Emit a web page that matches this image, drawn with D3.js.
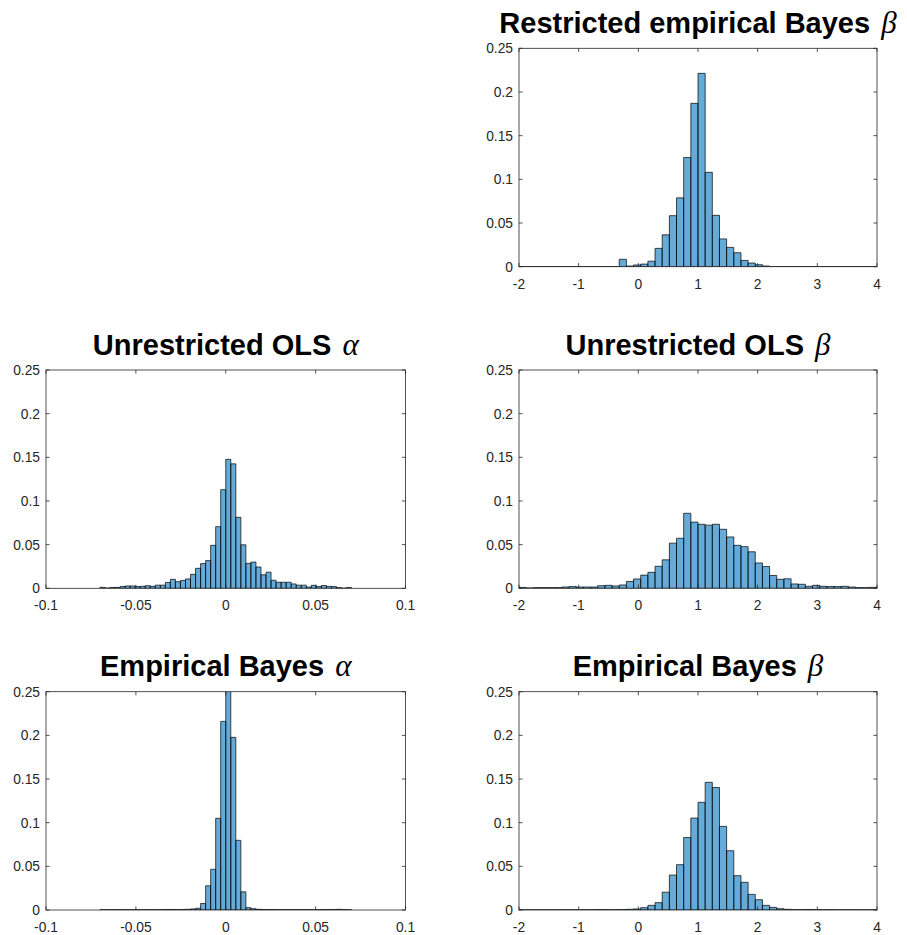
<!DOCTYPE html>
<html>
<head>
<meta charset="utf-8">
<script src="https://cdn.jsdelivr.net/npm/d3@7"></script>
<style>
  html, body { margin: 0; padding: 0; background: #fff; }
  svg { display: block; }
</style>
</head>
<body>
<svg id="chart" width="907" height="935"></svg>
<script>
// 50 equal-width bins over each parameter's range
const nBins = 50;
const alphaLimits = [-0.07, 0.07];
const betaLimits = [-2, 4];

const alphaTicks = [-0.1, -0.05, 0, 0.05, 0.1];
const betaTicks = [-2, -1, 0, 1, 2, 3, 4];
const yTicks = [0, 0.05, 0.1, 0.15, 0.2, 0.25];

// relative frequencies per bin
const restrictedEBBeta = [
  0, 0, 0, 0, 0, 0, 0, 0, 0, 0,
  0, 0, 0, 0, 0.0085, 0.0008, 0.002, 0.003, 0.0063, 0.021,
  0.0365, 0.0584, 0.0788, 0.125, 0.187, 0.2213, 0.108, 0.0588, 0.0318, 0.0221,
  0.016, 0.0072, 0.0042, 0.0023, 0.0008, 0, 0, 0, 0, 0,
  0, 0, 0, 0, 0, 0, 0, 0, 0, 0
];
const olsAlpha = [
  0.0011, 0.0003, 0.001, 0.001, 0.002, 0.0027, 0.0027, 0.002, 0.0023, 0.003,
  0.0023, 0.0036, 0.0036, 0.0067, 0.0103, 0.0076, 0.009, 0.0107, 0.016, 0.0229,
  0.0283, 0.0317, 0.0492, 0.0706, 0.113, 0.1477, 0.1425, 0.0813, 0.0498, 0.0286,
  0.03, 0.0244, 0.0155, 0.0185, 0.0092, 0.0069, 0.0069, 0.0069, 0.005, 0.0036,
  0.0036, 0.0015, 0.0034, 0.002, 0.0032, 0.0022, 0.002, 0.0008, 0.0002, 0.001
];
const olsBeta = [
  0.001, 0.0004, 0.0008, 0.0008, 0.0008, 0.0008, 0.0015, 0.002, 0.0015, 0.0015,
  0.0015, 0.003, 0.0034, 0.0027, 0.0038, 0.0078, 0.0107, 0.0151, 0.0183, 0.0252,
  0.0326, 0.0517, 0.0573, 0.0859, 0.0758, 0.0733, 0.0723, 0.0733, 0.0676, 0.0588,
  0.0492, 0.0477, 0.0418, 0.029, 0.025, 0.0147, 0.0103, 0.0109, 0.005, 0.0046,
  0.0023, 0.0034, 0.0023, 0.002, 0.002, 0.0023, 0.0015, 0.0008, 0.0008, 0.0011
];
const ebAlpha = [
  0.0003, 0.0003, 0.0003, 0.0003, 0.0003, 0.0003, 0.0003, 0.0003, 0.0003, 0.0003,
  0.0003, 0.0003, 0.0005, 0.0006, 0.0006, 0.0005, 0.0006, 0.0008, 0.0012, 0.002,
  0.0075, 0.0277, 0.0466, 0.105, 0.216, 0.27, 0.1977, 0.0798, 0.0208, 0.0027,
  0.0015, 0.0008, 0.0006, 0.0005, 0.0005, 0.0004, 0.0004, 0.0004, 0.0004, 0.0004,
  0.0004, 0.0004, 0.0004, 0.0004, 0.0005, 0.0005, 0.0006, 0.0008, 0.0004, 0.0003
];
const ebBeta = [
  0.0002, 0.0002, 0.0002, 0.0002, 0.0002, 0.0002, 0.0002, 0.0002, 0.0002, 0.0003,
  0.0003, 0.0005, 0.0003, 0.0003, 0.0005, 0.0008, 0.0012, 0.0027, 0.0053, 0.0084,
  0.0204, 0.04, 0.0519, 0.083, 0.1053, 0.1233, 0.1462, 0.1403, 0.0958, 0.0679,
  0.0393, 0.0317, 0.0179, 0.0118, 0.0053, 0.003, 0.0015, 0.0008, 0.0004, 0.0004,
  0.0006, 0.0004, 0.0003, 0.0003, 0.0002, 0.0002, 0.0002, 0.0002, 0.0002, 0.0002
];

// subplot grid (3x2, top-left slot empty)
const colX = [[46, 405.5], [519, 877]];
const rowY = [[48.3, 266.7], [370, 588.3], [691.7, 910]];

const panels = [
  { id: 'reb', title: 'Restricted empirical Bayes ', greek: 'β', values: restrictedEBBeta, limits: betaLimits, domain: [-2, 4], xTicks: betaTicks, col: 1, row: 0 },
  { id: 'olsa', title: 'Unrestricted OLS ', greek: 'α', values: olsAlpha, limits: alphaLimits, domain: [-0.1, 0.1], xTicks: alphaTicks, col: 0, row: 1 },
  { id: 'olsb', title: 'Unrestricted OLS ', greek: 'β', values: olsBeta, limits: betaLimits, domain: [-2, 4], xTicks: betaTicks, col: 1, row: 1 },
  { id: 'eba', title: 'Empirical Bayes ', greek: 'α', values: ebAlpha, limits: alphaLimits, domain: [-0.1, 0.1], xTicks: alphaTicks, col: 0, row: 2 },
  { id: 'ebb', title: 'Empirical Bayes ', greek: 'β', values: ebBeta, limits: betaLimits, domain: [-2, 4], xTicks: betaTicks, col: 1, row: 2 }
];

const svg = d3.select('#chart');
const axisColor = '#262626';
const tickLen = 3.6;
const sansFont = '"Liberation Sans", Arial, Helvetica, sans-serif';
const serifFont = '"Liberation Serif", "DejaVu Serif", serif';

panels.forEach(p => {
  const [x0, x1] = colX[p.col];
  const [y0, y1] = rowY[p.row];

  const x = d3.scaleLinear().domain(p.domain).range([x0, x1]);
  const y = d3.scaleLinear().domain([0, 0.25]).range([y1, y0]);

  const binW = (p.limits[1] - p.limits[0]) / nBins;
  const bins = p.values.map((v, i) => ({
    lo: p.limits[0] + i * binW,
    hi: p.limits[0] + (i + 1) * binW,
    v: v
  }));

  const g = svg.append('g');

  g.append('clipPath').attr('id', 'clip-' + p.id)
    .append('rect')
    .attr('x', x0).attr('y', y0)
    .attr('width', x1 - x0).attr('height', y1 - y0);

  // bars as closed paths so empty bins still leave an edge on the baseline
  g.append('g')
    .attr('clip-path', `url(#clip-${p.id})`)
    .selectAll('path')
    .data(bins)
    .join('path')
    .attr('d', d => {
      const a = x(d.lo), b = x(d.hi), t = y(d.v), base = y(0);
      return `M${a},${base}V${t}H${b}V${base}Z`;
    })
    .attr('fill', '#0072BD')
    .attr('fill-opacity', 0.6)
    .attr('stroke', '#000')
    .attr('stroke-width', 0.7);

  // box
  g.append('rect')
    .attr('x', x0).attr('y', y0)
    .attr('width', x1 - x0).attr('height', y1 - y0)
    .attr('fill', 'none')
    .attr('stroke', axisColor)
    .attr('stroke-width', 0.8);

  // inward ticks on all four sides
  const ticks = g.append('g').attr('stroke', axisColor).attr('stroke-width', 0.8);
  p.xTicks.forEach(t => {
    const px = x(t);
    ticks.append('line').attr('x1', px).attr('x2', px).attr('y1', y1).attr('y2', y1 - tickLen);
    ticks.append('line').attr('x1', px).attr('x2', px).attr('y1', y0).attr('y2', y0 + tickLen);
  });
  yTicks.forEach(t => {
    const py = y(t);
    ticks.append('line').attr('x1', x0).attr('x2', x0 + tickLen).attr('y1', py).attr('y2', py);
    ticks.append('line').attr('x1', x1).attr('x2', x1 - tickLen).attr('y1', py).attr('y2', py);
  });

  // tick labels
  g.append('g').selectAll('text')
    .data(p.xTicks)
    .join('text')
    .attr('x', d => x(d))
    .attr('y', y1 + 22)
    .attr('text-anchor', 'middle')
    .attr('font-family', sansFont)
    .attr('font-size', 13.8)
    .attr('fill', axisColor)
    .text(d => String(d));

  g.append('g').selectAll('text')
    .data(yTicks)
    .join('text')
    .attr('x', x0 - 6)
    .attr('y', d => y(d))
    .attr('dy', '0.36em')
    .attr('text-anchor', 'end')
    .attr('font-family', sansFont)
    .attr('font-size', 13.8)
    .attr('fill', axisColor)
    .text(d => String(d));

  // title
  const title = g.append('text')
    .attr('x', (x0 + x1) / 2)
    .attr('y', y0 - 15.5)
    .attr('text-anchor', 'middle')
    .attr('font-family', sansFont)
    .attr('font-size', 29)
    .attr('font-weight', 'bold')
    .attr('fill', '#000');
  title.append('tspan').text(p.title);
  title.append('tspan')
    .attr('dx', 3)
    .attr('font-family', serifFont)
    .attr('font-style', 'italic')
    .attr('font-weight', 'normal')
    .attr('font-size', 31)
    .text(p.greek);
});
</script>
</body>
</html>
